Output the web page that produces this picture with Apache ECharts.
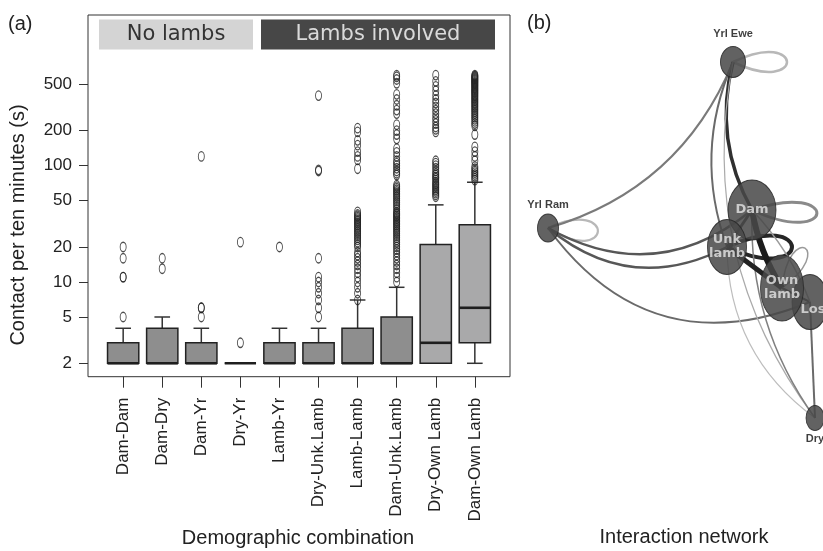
<!DOCTYPE html>
<html>
<head>
<meta charset="utf-8">
<script src="https://cdn.jsdelivr.net/npm/echarts@6/dist/echarts.min.js"></script>
<style>
  html, body { margin: 0; padding: 0; background: #ffffff; }
  #chart { width: 823px; height: 551px; }
</style>
</head>
<body>
<div id="chart"></div>
<script>
// ---------- (a) contact durations by demographic combination ----------
const categories = ['Dam-Dam', 'Dam-Dry', 'Dam-Yr', 'Dry-Yr', 'Lamb-Yr', 'Dry-Unk.Lamb',
                    'Lamb-Lamb', 'Dam-Unk.Lamb', 'Dry-Own Lamb', 'Dam-Own Lamb'];

// [lower whisker, Q1, median, Q3, upper whisker], seconds per ten minutes
const boxStats = [
  [2, 2, 2, 3, 4],
  [2, 2, 2, 4, 5],
  [2, 2, 2, 3, 4],
  [2, 2, 2, 2, 2],
  [2, 2, 2, 3, 4],
  [2, 2, 2, 3, 4],
  [2, 2, 2, 4, 7],
  [2, 2, 2, 5, 9],
  [2, 2, 3, 21, 46],
  [2, 3, 6, 31, 72]
];

// points beyond the whiskers, one list per category
const outDamDam   = [5, 11, 11, 16, 20];
const outDamDry   = [13, 16];
const outDamYr    = [5, 6, 6, 120];
const outDryYr    = [3, 22];
const outLambYr   = [20];
const outDryUnk   = [5, 6, 7, 8, 9, 10, 11, 16, 90, 92, 400];
const outLambLamb = [7, 8, 9, 10, 11, 12, 13, 14, 15, 16, 17, 18, 20, 21, 22, 23, 24, 25, 26, 27,
                     28, 29, 30, 31, 32, 33, 34, 35, 36, 37, 38, 40, 94, 112, 120, 132, 150, 165, 195, 210];
const outDamUnk   = [10, 11, 12, 13, 14, 15, 16, 17, 18, 19, 20, 21, 22, 23, 24, 25, 26, 27, 28, 29,
                     30, 31, 32, 33, 34, 35, 36, 37, 38, 39, 40, 42, 44, 46, 48, 50, 52, 54, 56, 58,
                     60, 62, 64, 66, 68, 83, 86, 90, 95, 100, 105, 110, 120, 130, 140, 170, 185, 200,
                     225, 280, 300, 330, 370, 410, 510, 550, 580, 600];
const outDryOwn   = [54, 56, 58, 60, 62, 64, 66, 68, 70, 72, 75, 78, 80, 83, 86, 90, 95, 100, 105, 110,
                     195, 205, 215, 230, 245, 260, 280, 300, 320, 345, 370, 400, 440, 480, 530, 600];
const outDamOwn   = [75, 78, 81, 84, 87, 90, 94, 98, 110, 120, 132, 145, 185,
                     220, 230, 240, 250, 260, 270, 280, 290, 300, 310, 320, 330, 340, 350, 360, 370,
                     380, 390, 400, 410, 420, 430, 440, 450, 460, 470, 480, 490, 500, 510, 520, 530,
                     540, 550, 560, 570, 580, 590, 600];
const outliers = [outDamDam, outDamDry, outDamYr, outDryYr, outLambYr,
                  outDryUnk, outLambLamb, outDamUnk, outDryOwn, outDamOwn];

const yTicks = [2, 5, 10, 20, 50, 100, 200, 500];
const groupLabels = ['No lambs', 'Lambs involved'];

// ---------- (b) interaction network ----------
const nodeNames  = ['Yrl Ewe', 'Yrl Ram', 'Dam', 'Unk lamb', 'Lost', 'Own lamb', 'Dry'];
const nodeLabels = ['Yrl Ewe', 'Yrl Ram', 'Dam', 'Unk\nlamb', 'Lost', 'Own\nlamb', 'Dry'];
const nodeX = [733, 548, 752, 727, 810, 782, 815];
const nodeY = [62, 228, 210, 247, 302, 288, 418];

const netEdges = [
  ['Yrl Ram', 'Yrl Ewe'], ['Yrl Ram', 'Yrl Ram'], ['Yrl Ram', 'Dam'], ['Yrl Ram', 'Unk lamb'],
  ['Yrl Ram', 'Lost'], ['Yrl Ewe', 'Yrl Ewe'], ['Yrl Ewe', 'Dam'], ['Yrl Ewe', 'Unk lamb'],
  ['Yrl Ewe', 'Dry'], ['Unk lamb', 'Dry'], ['Dam', 'Dry'], ['Lost', 'Dry'], ['Dam', 'Dam'],
  ['Dam', 'Own lamb'], ['Unk lamb', 'Own lamb'], ['Unk lamb', 'Unk lamb'], ['Dam', 'Unk lamb'],
  ['Own lamb', 'Lost'], ['Dam', 'Lost'], ['Own lamb', 'Own lamb']
];

// ---------- styling ----------
const FONT = 'Liberation Sans, Arial, sans-serif';
const nodeSize = [[25, 31], [21, 28], [48, 60], [39, 55], [36, 55], [43, 66], [18, 25]];
// w: stroke width, c: colour, bend: curveness; loops use reach/spread (px) and angle (deg)
const edgeLook = [
  { w: 2,   c: '#7a7a7a', bend: -0.24 },
  { w: 2.2, c: '#b8b8b8', reach: 50, spread: 21, angle: 4 },
  { w: 2.5, c: '#575757', bend: -0.34 },
  { w: 2.5, c: '#575757', bend: -0.33 },
  { w: 2,   c: '#6a6a6a', bend: -0.39 },
  { w: 2.5, c: '#b8b8b8', reach: 54, spread: 20, angle: 0 },
  { w: 3.5, c: '#303030', bend: -0.2 },
  { w: 2,   c: '#6a6a6a', bend: -0.2 },
  { w: 1.2, c: '#aaaaaa', bend: -0.22 },
  { w: 1.2, c: '#bdbdbd', bend: -0.25 },
  { w: 1.5, c: '#808080', bend: -0.17 },
  { w: 2,   c: '#6a6a6a', bend: 0 },
  { w: 3,   c: '#8a8a8a', reach: 65, spread: 20, angle: 3 },
  { w: 6,   c: '#1c1c1c', bend: -0.1 },
  { w: 5,   c: '#222222', bend: 0 },
  { w: 4,   c: '#262626', reach: 65, spread: 23, angle: 0 },
  { w: 3,   c: '#333333', bend: 0 },
  { w: 2,   c: '#444444', bend: 0 },
  { w: 1.5, c: '#9a9a9a', bend: 0.1 },
  { w: 1.5, c: '#9a9a9a', reach: 46, spread: 16, angle: -60 }
];
const boxFill = ['#8e8e8e', '#8e8e8e', '#8e8e8e', '#8e8e8e', '#8e8e8e',
                 '#8e8e8e', '#8e8e8e', '#8e8e8e', '#a9a9aa', '#a9a9aa'];
const ELLIPSE = 'path://M0,-50 A50,50 0 1,1 0,50 A50,50 0 1,1 0,-50 Z';

const catPos = categories.map((c, i) => i + 1);

const boxData = boxStats.map((s, i) => [i + 1].concat(s));
const outlierData = [];
outliers.forEach((list, i) => list.forEach(v => outlierData.push([i + 1, v])));

function seg(x1, y1, x2, y2, w, color) {
  return { type: 'line', shape: { x1, y1, x2, y2 }, style: { stroke: color, lineWidth: w } };
}

function renderBox(params, api) {
  const x = api.value(0);
  const lo = api.value(1), q1 = api.value(2), md = api.value(3), q3 = api.value(4), hi = api.value(5);
  const band = api.coord([x + 0.5, q1])[0] - api.coord([x - 0.5, q1])[0];
  const bw = band * 0.8, cap = bw * 0.5;
  const cx = api.coord([x, q1])[0];
  const yLo = api.coord([x, lo])[1], yQ1 = api.coord([x, q1])[1], yMd = api.coord([x, md])[1];
  const yQ3 = api.coord([x, q3])[1], yHi = api.coord([x, hi])[1];
  const kids = [];
  if (hi > q3) {
    kids.push(seg(cx, yQ3, cx, yHi, 1.5, '#333'));
    kids.push(seg(cx - cap / 2, yHi, cx + cap / 2, yHi, 1.5, '#333'));
  }
  if (lo < q1) {
    kids.push(seg(cx, yQ1, cx, yLo, 1.5, '#333'));
    kids.push(seg(cx - cap / 2, yLo, cx + cap / 2, yLo, 1.5, '#333'));
  }
  kids.push({ type: 'rect', shape: { x: cx - bw / 2, y: yQ3, width: bw, height: yQ1 - yQ3 },
              style: { fill: boxFill[params.dataIndex], stroke: '#222', lineWidth: 1.5 } });
  kids.push(seg(cx - bw / 2, yMd, cx + bw / 2, yMd, 2.6, '#1e1e1e'));
  return { type: 'group', children: kids };
}

// network layout box follows the node extent so node units map 1:1
const nx0 = Math.min(...nodeX), nx1 = Math.max(...nodeX);
const ny0 = Math.min(...nodeY), ny1 = Math.max(...nodeY);

const innerLabel = { show: true, position: 'inside', color: '#dcdcdc', fontFamily: 'DejaVu Sans',
                     fontWeight: 'bold', fontSize: 13, lineHeight: 14 };
const outerLabel = { show: true, color: '#1e1e1e', fontFamily: FONT, fontWeight: 'bold', fontSize: 11 };
const nodeLabelCfg = [
  Object.assign({}, outerLabel, { position: 'top', distance: 6 }),
  Object.assign({}, outerLabel, { position: 'top', distance: 3 }),
  innerLabel,
  innerLabel,
  Object.assign({}, innerLabel, { offset: [6, 8] }),
  innerLabel,
  Object.assign({}, outerLabel, { position: 'bottom', distance: 2 })
];

const graphNodes = nodeNames.map((n, i) => ({
  name: n, x: nodeX[i], y: nodeY[i], symbolSize: nodeSize[i],
  label: Object.assign({ formatter: nodeLabels[i] }, nodeLabelCfg[i])
}));

const graphEdges = [];
const loopData = [];
netEdges.forEach((e, i) => {
  const look = edgeLook[i];
  if (e[0] === e[1]) {
    const k = nodeNames.indexOf(e[0]);
    loopData.push([nodeX[k], nodeY[k], i]);
  } else {
    graphEdges.push({ source: e[0], target: e[1],
      lineStyle: { color: look.c, width: look.w, curveness: look.bend, opacity: 1 } });
  }
});

// self-interactions: teardrop loops leaving the node centre
function renderLoop(params, api) {
  const p = api.coord([api.value(0), api.value(1)]);
  const look = edgeLook[api.value(2)];
  const a = look.angle * Math.PI / 180;
  const ux = Math.cos(a), uy = Math.sin(a), vx = -uy, vy = ux;
  const L = look.reach / 0.75, W = look.spread / 0.577;
  const c1 = [p[0] + ux * L + vx * W, p[1] + uy * L + vy * W];
  const c2 = [p[0] + ux * L - vx * W, p[1] + uy * L - vy * W];
  return {
    type: 'bezierCurve',
    shape: { x1: p[0], y1: p[1], x2: p[0], y2: p[1],
             cpx1: c1[0], cpy1: c1[1], cpx2: c2[0], cpy2: c2[1] },
    style: { stroke: look.c, lineWidth: look.w, fill: null }
  };
}

const chart = echarts.init(document.getElementById('chart'), null, { renderer: 'canvas' });

chart.setOption({
  animation: false,
  backgroundColor: '#ffffff',
  grid: [
    { left: 88, right: 313, top: 15, bottom: 174.3, show: true,
      borderColor: '#333', borderWidth: 1, backgroundColor: 'transparent' },
    { left: nx0, top: ny0, width: nx1 - nx0, height: ny1 - ny0, show: false }
  ],
  xAxis: [
    {
      type: 'value', min: 0.1, max: 10.9, gridIndex: 0,
      axisLine: { show: false }, splitLine: { show: false },
      axisTick: { show: true, customValues: catPos, length: 11, lineStyle: { color: '#333', width: 1 } },
      axisLabel: { customValues: catPos, formatter: v => categories[Math.round(v) - 1],
                   rotate: 90, margin: 21, fontSize: 17, color: '#222', fontFamily: FONT }
    },
    { type: 'value', gridIndex: 1, min: nx0, max: nx1, show: false }
  ],
  yAxis: [
    {
      type: 'log', logBase: 10, min: 1.534, max: 1971, gridIndex: 0,
      axisLine: { show: false }, splitLine: { show: false },
      axisTick: { show: true, customValues: yTicks, length: 9, lineStyle: { color: '#333', width: 1 } },
      axisLabel: { customValues: yTicks, margin: 16, fontSize: 17, color: '#222', fontFamily: FONT }
    },
    { type: 'value', gridIndex: 1, min: ny0, max: ny1, inverse: true, show: false }
  ],
  graphic: [
    { type: 'text', x: 8, y: 24, style: { text: '(a)', fontSize: 20, fontFamily: FONT, fill: '#222',
      align: 'left', verticalAlign: 'middle' } },
    { type: 'text', x: 527, y: 23, style: { text: '(b)', fontSize: 20, fontFamily: FONT, fill: '#222',
      align: 'left', verticalAlign: 'middle' } },
    { type: 'text', x: 18, y: 225, rotation: Math.PI / 2,
      style: { text: 'Contact per ten minutes (s)', fontSize: 20, fontFamily: FONT, fill: '#222',
               align: 'center', verticalAlign: 'middle' } },
    { type: 'text', x: 298, y: 538, style: { text: 'Demographic combination', fontSize: 20,
      fontFamily: FONT, fill: '#222', align: 'center', verticalAlign: 'middle' } },
    { type: 'text', x: 684, y: 537, style: { text: 'Interaction network', fontSize: 20,
      fontFamily: FONT, fill: '#222', align: 'center', verticalAlign: 'middle' } },
    { type: 'rect', shape: { x: 99, y: 19.5, width: 154, height: 30 }, style: { fill: '#d4d4d4' } },
    { type: 'text', x: 176, y: 34.5, style: { text: groupLabels[0], fontSize: 21, fontFamily: 'DejaVu Sans',
      fill: '#333', align: 'center', verticalAlign: 'middle' } },
    { type: 'rect', shape: { x: 261, y: 19.5, width: 234, height: 30 }, style: { fill: '#474747' } },
    { type: 'text', x: 378, y: 34.5, style: { text: groupLabels[1], fontSize: 21, fontFamily: 'DejaVu Sans',
      fill: '#dadada', align: 'center', verticalAlign: 'middle' } }
  ],
  series: [
    {
      type: 'custom', name: 'boxes', xAxisIndex: 0, yAxisIndex: 0,
      data: boxData, encode: { x: 0, y: [1, 2, 3, 4, 5] },
      renderItem: renderBox, z: 2
    },
    {
      type: 'scatter', name: 'outliers', xAxisIndex: 0, yAxisIndex: 0, data: outlierData,
      symbol: ELLIPSE, symbolSize: [6, 9.5], z: 3,
      itemStyle: { color: 'rgba(255,255,255,0)', borderColor: '#222', borderWidth: 1.1 }
    },
    {
      type: 'custom', name: 'self-contacts', xAxisIndex: 1, yAxisIndex: 1,
      data: loopData, encode: { x: 0, y: 1 }, renderItem: renderLoop, clip: false, z: 1
    },
    {
      type: 'graph', layout: 'none', roam: false, z: 2,
      left: nx0, top: ny0, width: nx1 - nx0, height: ny1 - ny0,
      symbol: ELLIPSE,
      data: graphNodes, edges: graphEdges,
      itemStyle: { color: '#484848', borderColor: '#262626', borderWidth: 1, opacity: 0.86 },
      lineStyle: { opacity: 1 },
      emphasis: { disabled: true }
    }
  ]
});
</script>
</body>
</html>
